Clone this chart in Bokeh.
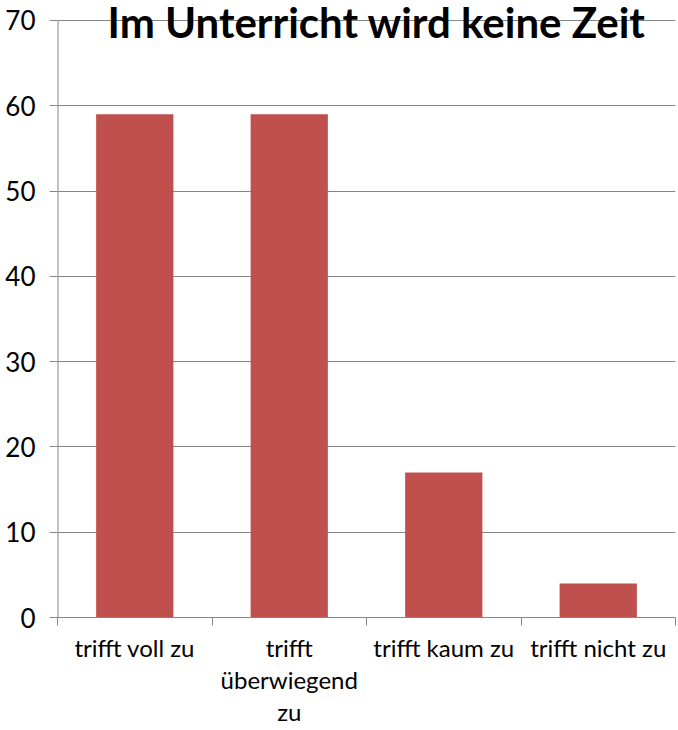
from bokeh.plotting import figure
from bokeh.models import Label, Range1d, FixedTicker
from bokeh.embed import file_html
from bokeh.resources import INLINE

categories = ["trifft voll zu", "trifft\nüberwiegend\nzu", "trifft kaum zu", "trifft nicht zu"]
values = [59, 59, 17, 4]
y_ticks = [0, 10, 20, 30, 40, 50, 60, 70]
title_text = "Im Unterricht wird keine Zeit"

FONT = "Lato"
GRID = "#868686"

n = len(categories)
centers = [i + 0.5 for i in range(n)]
bounds = list(range(n + 1))

# frame reaches the canvas top so the title (inside the frame) is not clipped
p = figure(x_range=Range1d(0, n), y_range=Range1d(0, 72.345),
           width=678, height=730, output_backend="svg", toolbar_location=None,
           min_border_left=57, min_border_right=3, min_border_top=0, min_border_bottom=113)
p.outline_line_color = None
p.background_fill_color = "white"
p.border_fill_color = "white"

p.vbar(x=centers, top=values, width=0.5, fill_color="#C0504D", line_color=None)

p.xgrid.grid_line_color = None
p.ygrid.grid_line_color = GRID
p.ygrid.grid_line_width = 1

# y axis
p.yaxis.ticker = FixedTicker(ticks=y_ticks)
p.yaxis.axis_line_color = None
p.yaxis.major_tick_line_color = GRID
p.yaxis.minor_tick_line_color = None
p.yaxis.major_label_text_font = FONT
p.yaxis.major_label_text_font_size = "26px"
p.yaxis.major_label_text_color = "black"
p.yaxis.major_tick_out = 8
p.yaxis.major_tick_in = 0
p.yaxis.major_label_standoff = 14
p.segment(x0=[bounds[0]], y0=[y_ticks[0]], x1=[bounds[0]], y1=[y_ticks[-1]],
          line_color=GRID, line_width=2)

# x axis: labels at category centres, tick marks at category boundaries
p.xaxis.ticker = FixedTicker(ticks=centers, minor_ticks=bounds)
p.xaxis.major_label_overrides = {c: lab for c, lab in zip(centers, categories)}
p.xaxis.axis_line_color = GRID
p.xaxis.major_tick_line_color = None
p.xaxis.major_tick_out = 0
p.xaxis.major_tick_in = 0
p.xaxis.minor_tick_line_color = GRID
p.xaxis.minor_tick_out = 8
p.xaxis.minor_tick_in = 0
p.xaxis.major_label_text_font = FONT
p.xaxis.major_label_text_font_size = "24px"
p.xaxis.major_label_text_color = "black"
p.xaxis.major_label_text_line_height = 1.12
p.xaxis.major_label_standoff = 7

title = Label(x=0.324, y=69.88, text=title_text,
              text_font=FONT, text_font_size="42px", text_font_style="bold",
              text_color="black", text_baseline="middle")
p.add_layout(title)

open("out.html", "w").write(file_html(p, INLINE))
